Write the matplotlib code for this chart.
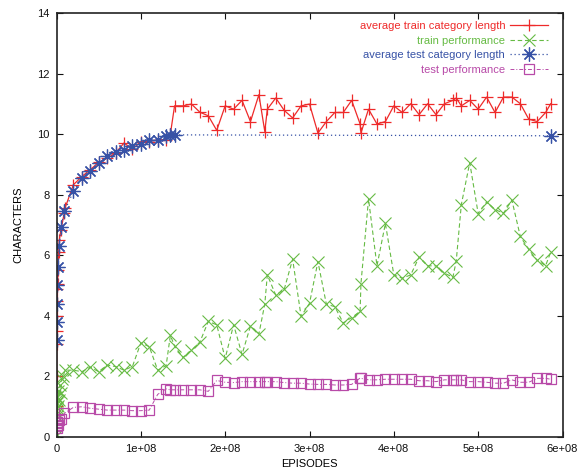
import numpy as np
import matplotlib
matplotlib.use("Agg")
import matplotlib.pyplot as plt

plt.rcParams['font.family'] = ['Liberation Sans', 'DejaVu Sans']
plt.rcParams['font.size'] = 8

# episodes are given in units of 1e7
train_len_x = [0.01, 0.02, 0.03, 0.04, 0.05, 0.07, 0.1, 0.12, 0.2, 0.25, 0.33, 0.53, 0.93, 1.0,
               2, 3, 4, 5, 6, 7, 8, 9, 10, 11, 12, 13, 13.5,
               14, 15, 16, 17, 18, 19, 20, 21, 22, 23, 24, 24.7, 25, 26, 27, 28, 29, 30,
               31, 32, 33, 34, 35, 36, 36.1, 37, 38, 39, 40, 41, 42, 43, 44, 45, 46, 47, 47.4,
               48, 49, 50, 51, 52, 53, 54, 55, 56, 57, 58, 58.6]
train_len_y = [1.0, 2.0, 3.05, 3.5, 4.0, 4.5, 4.9, 5.05, 5.5, 6.1, 6.5, 6.85, 7.4, 7.55,
               8.33, 8.6, 8.83, 9.07, 9.21, 9.38, 9.71, 9.51, 9.76, 9.76, 9.82, 9.82, 10.0,
               10.94, 10.94, 11.0, 10.73, 10.61, 10.13, 10.94, 10.83, 11.12, 10.42, 11.31, 10.09, 10.83,
               11.2, 10.79, 10.54, 10.94, 11.0,
               10.04, 10.42, 10.72, 10.72, 11.12, 10.34, 10.04, 10.83, 10.34, 10.42, 10.94, 10.72,
               11.01, 10.65, 11.01, 10.65, 11.01, 11.12, 11.2,
               10.94, 11.12, 10.83, 11.23, 10.72, 11.23, 11.23, 11.01, 10.5, 10.42, 10.72, 11.01]

train_perf_x = [0.0, 0.01, 0.02, 0.03, 0.05, 0.07, 0.1, 0.15, 0.2, 0.33, 0.4, 0.53, 0.6, 0.8, 1.0,
                2, 3, 4, 5, 6, 7, 8, 9, 10, 11, 12, 13, 13.5,
                14, 15, 16, 17, 18, 19, 20, 21, 22, 23, 24, 24.7, 25, 26, 27, 28, 29, 30,
                31, 32, 33, 34, 35, 36, 36.1, 37, 38, 39, 40, 41, 42, 43, 44, 45, 46, 47, 47.4,
                48, 49, 50, 51, 52, 53, 54, 55, 56, 57, 58, 58.6]
train_perf_y = [0.05, 0.8, 1.1, 0.7, 1.2, 0.95, 1.3, 1.0, 1.5, 1.2, 1.7, 1.45, 1.9, 2.0, 2.2,
                2.2, 2.15, 2.3, 2.15, 2.37, 2.32, 2.2, 2.32, 3.1, 2.98, 2.2, 2.35, 3.35,
                3.0, 2.62, 2.86, 3.13, 3.81, 3.7, 2.59, 3.7, 2.72, 3.66, 3.4, 4.39, 5.35,
                4.68, 4.87, 5.87, 3.98, 4.41,
                5.79, 4.38, 4.3, 3.76, 3.94, 4.14, 5.06, 7.86, 5.65, 7.05, 5.35, 5.24,
                5.35, 5.94, 5.65, 5.65, 5.41, 5.27, 5.81,
                7.67, 9.06, 7.38, 7.76, 7.51, 7.39, 7.82, 6.62, 6.19, 5.83, 5.66, 6.1]

test_len_x = [0.01, 0.02, 0.05, 0.1, 0.2, 0.33, 0.53, 0.93,
              2, 3, 4, 5, 6, 7, 8, 9, 10, 11, 12, 13, 13.5, 14, 58.6]
test_len_y = [3.2, 3.8, 4.4, 5.0, 5.6, 6.3, 6.93, 7.45,
              8.11, 8.55, 8.8, 9.05, 9.27, 9.43, 9.49, 9.6, 9.69, 9.8, 9.82, 9.93, 9.98, 9.98, 9.95]

test_perf_x = [0.01, 0.02, 0.05, 0.1, 0.2, 0.33, 0.53, 0.93,
               2, 3, 4, 5, 6, 7, 8, 9, 10, 11, 12, 13, 13.5,
               14, 15, 16, 17, 18, 19, 20, 21, 22, 23, 24, 24.7, 25, 26, 27, 28, 29, 30,
               31, 32, 33, 34, 35, 36, 36.1, 37, 38, 39, 40, 41, 42, 43, 44, 45, 46, 47, 47.4,
               48, 49, 50, 51, 52, 53, 54, 55, 56, 57, 58, 58.6]
test_perf_y = [0.3, 0.45, 0.35, 0.5, 0.4, 0.55, 0.6, 0.77,
               0.97, 0.99, 0.94, 0.91, 0.88, 0.88, 0.88, 0.86, 0.86, 0.88, 1.4, 1.58, 1.55,
               1.55, 1.55, 1.55, 1.55, 1.5, 1.86, 1.8, 1.79, 1.82, 1.82, 1.82, 1.82, 1.82,
               1.82, 1.79, 1.77, 1.77, 1.74,
               1.73, 1.73, 1.71, 1.71, 1.73, 1.94, 1.93, 1.88, 1.88, 1.9, 1.9, 1.9,
               1.9, 1.85, 1.85, 1.82, 1.88, 1.88, 1.88,
               1.88, 1.82, 1.82, 1.8, 1.77, 1.77, 1.88, 1.8, 1.8, 1.93, 1.93, 1.9]

xticks = [0, 1e8, 2e8, 3e8, 4e8, 5e8, 6e8]
xtick_labels = ['0', '1e+08', '2e+08', '3e+08', '4e+08', '5e+08', '6e+08']
yticks = [0, 2, 4, 6, 8, 10, 12, 14]

c_red = '#ee2a2a'
c_green = '#66bb44'
c_blue = '#3752a6'
c_purple = '#b84aa8'

fig = plt.figure(figsize=(5.81, 4.76), dpi=100)
ax = fig.add_axes([56.5 / 581, 1 - 436.7 / 476, 506 / 581, 423.4 / 476])

ax.plot(np.array(train_len_x) * 1e7, train_len_y, color=c_red, lw=0.9, marker='+',
        ms=9, mew=0.9, label='average train category length')
ax.plot(np.array(train_perf_x) * 1e7, train_perf_y, color=c_green, lw=0.8, dashes=(4, 2.5),
        marker='x', ms=8, mew=0.8, label='train performance')
ax.plot(np.array(test_len_x) * 1e7, test_len_y, color=c_blue, lw=0.9, dashes=(1, 2.2),
        marker=(8, 2, 0), ms=10, mew=0.9, label='average test category length')
ax.plot(np.array(test_perf_x) * 1e7, test_perf_y, color=c_purple, lw=0.7, dashes=(4, 2, 1, 2),
        marker='s', ms=7.5, mew=0.9, mfc='none', label='test performance')

ax.set_xlim(0, 6e8)
ax.set_ylim(0, 14)
ax.set_xticks(xticks)
ax.set_xticklabels(xtick_labels)
ax.set_yticks(yticks)
ax.tick_params(direction='in', length=4.5, width=0.8, top=True, right=True, pad=5,
               labelsize=8, colors='#111111')
for s in ax.spines.values():
    s.set_linewidth(1.2)
    s.set_color('#222222')

ax.set_xlabel('EPISODES', fontsize=8, labelpad=4)
ax.set_ylabel('CHARACTERS', fontsize=8, labelpad=10)

ax.legend(loc='upper right', bbox_to_anchor=(548 / 581, 1 - 21 / 476),
          bbox_transform=fig.transFigure, frameon=False, markerfirst=False,
          labelcolor='linecolor', fontsize=8, handlelength=3.4, handletextpad=0.45,
          labelspacing=0.42, borderpad=0, borderaxespad=0, numpoints=1)

fig.savefig('out.png', dpi=100)
